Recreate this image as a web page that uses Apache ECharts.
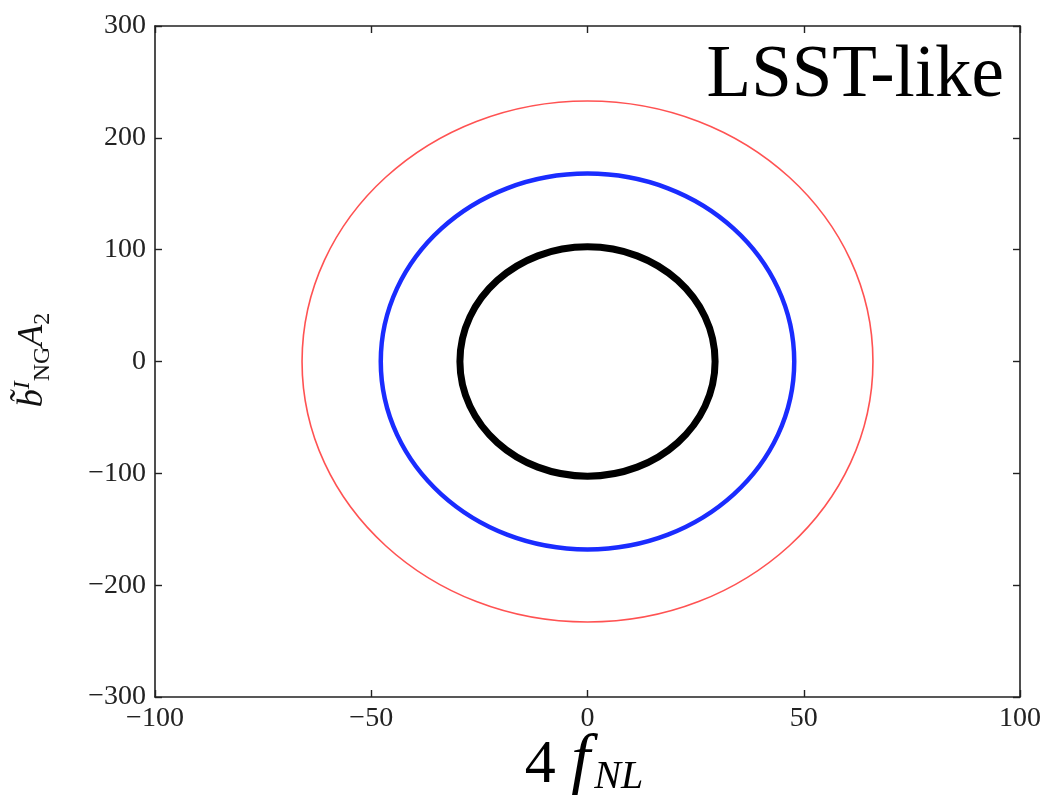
<!DOCTYPE html>
<html>
<head>
<meta charset="utf-8">
<script src="https://cdn.jsdelivr.net/npm/echarts@6/dist/echarts.min.js"></script>
<style>html,body{margin:0;padding:0;background:#fff}#chart{width:1046px;height:797px}</style>
</head>
<body>
<div id="chart"></div>
<script>
// Ellipses: [centerX, centerY, semiAxisX, semiAxisY]
const ellipseNames = ['black', 'blue', 'red'];
const ellipseBlack = [0, 0, 29.5, 102.5];
const ellipseBlue = [0, 0, 47.8, 168];
const ellipseRed = [0, 0, 66, 233];
const xTicks = [-100, -50, 0, 50, 100];
const yTicks = [-300, -200, -100, 0, 100, 200, 300];
const panelLabel = 'LSST-like';

const serif = '"Liberation Serif", "DejaVu Serif", serif';
const fmt = v => (v < 0 ? '\u2212' + Math.abs(v) : String(v));

function ellipseSeries(data, color, width) {
  return {
    type: 'custom',
    xAxisIndex: 0, yAxisIndex: 0,
    data: [data],
    silent: true,
    renderItem: function (params, api) {
      const c = api.coord([api.value(0), api.value(1)]);
      const s = api.size([api.value(2), api.value(3)]);
      return {
        type: 'ellipse',
        shape: { cx: c[0], cy: c[1], rx: s[0], ry: s[1] },
        style: { fill: null, stroke: color, lineWidth: width }
      };
    }
  };
}

const axisLineStyle = { color: '#222', width: 1.6 };
const tickStyle = { show: true, inside: true, length: 7, lineStyle: { color: '#222', width: 1.4 } };

const chart = echarts.init(document.getElementById('chart'));
chart.setOption({
  animation: false,
  backgroundColor: '#fff',
  grid: { left: 155, right: 26, top: 26, bottom: 100 },
  xAxis: [
    {
      type: 'value', min: xTicks[0], max: xTicks[xTicks.length - 1], interval: 50,
      axisLine: { show: true, onZero: false, lineStyle: axisLineStyle },
      axisTick: tickStyle,
      splitLine: { show: false },
      axisLabel: { formatter: fmt, fontFamily: serif, fontSize: 28, color: '#222', margin: 8 }
    },
    {
      type: 'value', position: 'top', min: xTicks[0], max: xTicks[xTicks.length - 1], interval: 50,
      axisLine: { show: true, onZero: false, lineStyle: axisLineStyle },
      axisTick: tickStyle, splitLine: { show: false }, axisLabel: { show: false }
    }
  ],
  yAxis: [
    {
      type: 'value', min: yTicks[0], max: yTicks[yTicks.length - 1], interval: 100,
      axisLine: { show: true, onZero: false, lineStyle: axisLineStyle },
      axisTick: tickStyle,
      splitLine: { show: false },
      axisLabel: { formatter: fmt, fontFamily: serif, fontSize: 28, color: '#222', margin: 9 }
    },
    {
      type: 'value', position: 'right', min: yTicks[0], max: yTicks[yTicks.length - 1], interval: 100,
      axisLine: { show: true, onZero: false, lineStyle: axisLineStyle },
      axisTick: tickStyle, splitLine: { show: false }, axisLabel: { show: false }
    }
  ],
  series: [
    ellipseSeries(ellipseRed, '#ff5252', 1.6),
    ellipseSeries(ellipseBlue, '#1a2cff', 4.5),
    ellipseSeries(ellipseBlack, '#000000', 7)
  ],
  graphic: [
    {
      type: 'text', right: 42, top: 40,
      style: { text: panelLabel, fontFamily: serif, fontSize: 73, fill: '#000' }
    },
    {
      type: 'text', x: 584, y: 762,
      style: {
        text: '{n|4 }{f|f}{s|NL}',
        align: 'center', verticalAlign: 'middle',
        rich: {
          n: { fontFamily: serif, fontSize: 62, fill: '#000', verticalAlign: 'bottom', lineHeight: 70 },
          f: { fontFamily: serif, fontSize: 68, fontStyle: 'italic', fill: '#000', verticalAlign: 'bottom', lineHeight: 70 },
          s: { fontFamily: serif, fontSize: 40, fontStyle: 'italic', fill: '#000', verticalAlign: 'bottom', lineHeight: 56, padding: [0, 0, 0, 4] }
        }
      }
    },
    {
      type: 'text', x: 33, y: 360, rotation: Math.PI / 2,
      style: {
        text: '{b|b\u0303}{sup|I}{sub|NG}{a|A}{sub|2}',
        align: 'center', verticalAlign: 'middle',
        rich: {
          b: { fontFamily: serif, fontSize: 36, fontStyle: 'italic', fill: '#111', lineHeight: 44, verticalAlign: 'middle' },
          a: { fontFamily: serif, fontSize: 36, fontStyle: 'italic', fill: '#111', lineHeight: 44, verticalAlign: 'middle' },
          sup: { fontFamily: serif, fontSize: 24, fontStyle: 'italic', fill: '#111', lineHeight: 24, verticalAlign: 'top' },
          sub: { fontFamily: serif, fontSize: 24, fill: '#111', lineHeight: 24, verticalAlign: 'bottom' }
        }
      }
    }
  ]
});
</script>
</body>
</html>
